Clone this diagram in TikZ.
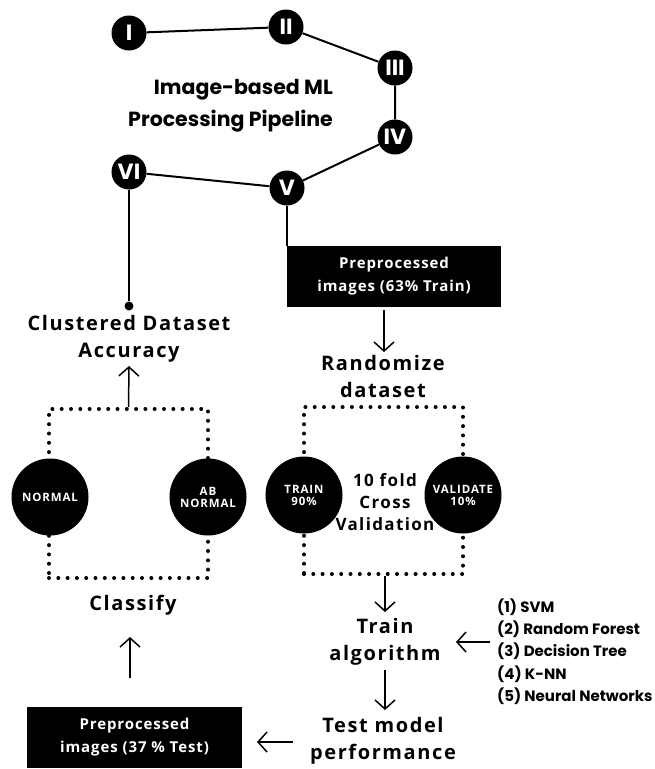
\documentclass[tikz,border=0pt]{standalone}
\usepackage{fontspec}
\setmainfont{Poppins}
\newfontfamily\lab[LetterSpace=8]{Open Sans}
\newfontfamily\labm[LetterSpace=6]{Open Sans}
\usetikzlibrary{arrows.meta}
\begin{document}
\begin{tikzpicture}[x=1pt,y=-1pt,
  num/.style={circle,fill=black,minimum size=35pt,inner sep=0pt,text=white,font=\fontsize{22}{22}\selectfont\bfseries},
  link/.style={line width=2pt},
  arr/.style={line width=1.5pt,-{Straight Barb[length=9pt,width=20pt]}},
  dots/.style={line width=4pt,line cap=round,dash pattern=on 0pt off 9.3pt},
  blob/.style={circle,fill=black,minimum size=77pt,inner sep=0pt,text=white,align=center,font=\lab\fontsize{11.5}{12}\selectfont\bfseries},
  lbl/.style={align=center,inner sep=0pt,font=\lab\fontsize{20}{27}\selectfont\bfseries},
  blk/.style={fill=black,text=white,align=center,inner sep=0pt,font=\labm\fontsize{15}{23}\selectfont\bfseries},
  title/.style={align=right,inner sep=0pt,font=\fontsize{20.5}{32}\selectfont\bfseries},
  algo/.style={align=left,inner sep=0pt,font=\fontsize{15}{22.3}\selectfont\bfseries}]
\useasboundingbox (0,0) rectangle (654,769);
% pipeline circles
\node[num] (n1) at (129,33) {I};
\node[num] (n2) at (286,27) {II};
\node[num] (n3) at (395,68) {III};
\node[num] (n4) at (395,137) {IV};
\node[num] (n5) at (287,188) {V};
\node[num] (n6) at (129,172) {VI};
\draw[link] (n1) -- (n2) -- (n3) -- (n4) -- (n5) -- (n6);
\node[title,anchor=east] (ttl) at (333,106) {Image-based ML\\Processing Pipeline};
% left branch
\node[circle,fill=black,inner sep=0pt,minimum size=9pt] (dot) at (129,306) {};
\draw[link] (n6) -- (dot);
\node[lbl] (acc) at (129,338.5) {Clustered Dataset\\Accuracy};
% right branch
\node[blk,minimum width=214pt,minimum height=61pt] (b63) at (394,276.5) {Preprocessed\\images (63\% Train)};
\draw[link] (n5) -- (n5 |- b63.north);
\node[lbl] (rnd) at (383,376.5) {Randomize\\dataset};
\coordinate (c1) at (384,310);
\coordinate (c2) at (384,352);
\draw[arr] (c1) -- (c2);
% left dotted box
\node[draw,dots,minimum width=159pt,minimum height=169pt,inner sep=0pt] (lbox) at (128.5,493.5) {};
\node[blob] (nor) at (50,497) {NORMAL};
\node[blob] (ab) at (208,497) {AB\\NORMAL};
\coordinate (c3) at (129,366);
\draw[arr] (lbox.north) -- (c3);
\node[lbl] (cls) at (133,605) {Classify};
% right dotted box
\node[draw,dots,minimum width=159pt,minimum height=167pt,inner sep=0pt] (rbox) at (383.5,490.5) {};
\node[blob] (trn) at (304,495) {TRAIN\\90\%};
\node[blob] (val) at (463,495) {VALIDATE\\10\%};
\node[align=center,inner sep=0pt,font=\lab\fontsize{17}{22}\selectfont\bfseries] (cv) at (385,502) {10 fold\\Cross\\Validation};
\coordinate (c4) at (385,612);
\draw[arr] (rbox.south) ++(1.5,0) -- (c4);
\node[lbl] (tra) at (385,642) {Train\\algorithm};
\coordinate (c5) at (385,670);
\coordinate (c6) at (385,710);
\draw[arr] (c5) -- (c6);
\node[lbl] (tst) at (383,740.5) {Test model\\performance};
\node[algo,anchor=west] (lst) at (497,651.5) {(1) SVM\\(2) Random Forest\\(3) Decision Tree\\(4) K-NN\\(5) Neural Networks};
\coordinate (c7) at (490,642);
\coordinate (c8) at (456,642);
\draw[arr] (c7) -- (c8);
\node[blk,minimum width=215pt,minimum height=61pt] (b37) at (134.5,737.5) {Preprocessed\\images (37 \% Test)};
\coordinate (c9) at (293,742);
\coordinate (c10) at (257,742);
\draw[arr] (c9) -- (c10);
\coordinate (c11) at (130,678);
\coordinate (c12) at (130,637);
\draw[arr] (c11) -- (c12);
\end{tikzpicture}
\end{document}
